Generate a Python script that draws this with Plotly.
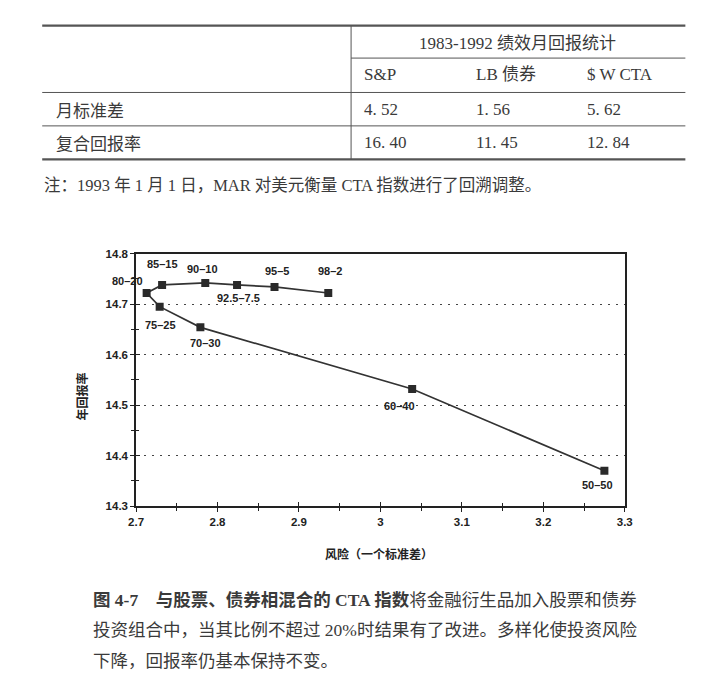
import plotly.graph_objects as go

W, H = 709, 692

# ---------------- data ----------------
table_title = "1983-1992 绩效月回报统计"
table_columns = ["S&P", "LB 债券", "$ W CTA"]
row_labels = ["月标准差", "复合回报率"]
monthly_std = [4.52, 1.56, 5.62]
compound_return = [16.40, 11.45, 12.84]
note_text = "注：1993 年 1 月 1 日，MAR 对美元衡量 CTA 指数进行了回溯调整。"

mix_labels = ["98–2", "95–5", "92.5–7.5", "90–10", "85–15", "80–20",
              "75–25", "70–30", "60–40", "50–50"]
risk = [2.936, 2.870, 2.824, 2.785, 2.732, 2.713, 2.729, 2.779, 3.039, 3.275]
annual_return = [14.722, 14.734, 14.738, 14.742, 14.738, 14.722,
                 14.695, 14.654, 14.532, 14.370]

x_title = "风险（一个标准差）"
y_title = "年回报率"
caption_lines = [
    "<b>图 4-7　与股票、债券相混合的 CTA 指数</b>将金融衍生品加入股票和债券",
    "投资组合中，当其比例不超过 20%时结果有了改进。多样化使投资风险",
    "下降，回报率仍基本保持不变。",
]

# ---------------- helpers ----------------
def px(x):
    return x / W

def py(y):
    return 1 - y / H

page_col = "#3a3a3a"
chart_col = "#222222"
serif = "Liberation Serif, Noto Sans CJK SC"
cjk = "Noto Sans CJK SC"
chart_font = "Liberation Sans, Arial, sans-serif"

# label offsets (pixels) for point labels
label_shift = [(2, 22), (2, 16), (1, -13), (-3, 14), (0, 21), (-19, 12),
               (1, -18), (5, -16), (-13, -17), (-7, -14)]

fig = go.Figure()
fig.add_trace(go.Scatter(
    x=risk, y=annual_return, mode="lines+markers",
    line=dict(color="#333333", width=1.7),
    marker=dict(symbol="square", size=8, color="#2a2a2a"),
    hoverinfo="x+y", showlegend=False,
))
# invisible trace on overlay axes so the inward ticks show
fig.add_trace(go.Scatter(x=[risk[0]], y=[annual_return[0]], xaxis="x2", yaxis="y2",
                         mode="markers", marker=dict(opacity=0), showlegend=False,
                         hoverinfo="skip"))

xdom = [px(131), px(631)]
ydom = [py(509), py(252)]

axis_common = dict(showline=True, linecolor="#222", linewidth=1.5, mirror=True,
                   ticks="outside", ticklen=4, tickcolor="#222", tickwidth=1.2,
                   tickfont=dict(family=chart_font, size=11.5, color=chart_col, weight="bold"),
                   zeroline=False)

fig.update_layout(
    width=W, height=H, margin=dict(l=0, r=0, t=0, b=0),
    paper_bgcolor="white", plot_bgcolor="white",
    xaxis=dict(domain=xdom, range=[2.7, 3.3], dtick=0.1, tick0=2.7, showgrid=False,
               tickformat=".1~f",
               minor=dict(dtick=0.05, tick0=2.7, ticks="outside", ticklen=3,
                          tickcolor="#222", showgrid=False),
               **axis_common),
    yaxis=dict(domain=ydom, range=[14.3, 14.8], dtick=0.1, tick0=14.3,
               tickformat=".1f",
               showgrid=True, gridcolor="#444", griddash="2px,6px", gridwidth=1.3,
               minor=dict(dtick=0.05, tick0=14.3, ticks="outside", ticklen=3,
                          tickcolor="#222", showgrid=False),
               **axis_common),
    xaxis2=dict(domain=xdom, range=[2.7, 3.3], overlaying="x", anchor="y2",
                dtick=0.1, tick0=2.7, ticks="inside", ticklen=4, tickcolor="#222",
                tickwidth=1.2, showticklabels=False, showgrid=False, zeroline=False,
                minor=dict(dtick=0.05, tick0=2.7, ticks="inside", ticklen=3,
                           tickcolor="#222")),
    yaxis2=dict(domain=ydom, range=[14.3, 14.8], overlaying="y", anchor="x2",
                dtick=0.1, tick0=14.3, ticks="inside", ticklen=4, tickcolor="#222",
                tickwidth=1.2, showticklabels=False, showgrid=False, zeroline=False,
                minor=dict(dtick=0.05, tick0=14.3, ticks="inside", ticklen=3,
                           tickcolor="#222")),
)

ann = []
# point labels
for lab, xv, yv, (dx, dy) in zip(mix_labels, risk, annual_return, label_shift):
    ann.append(dict(x=xv, y=yv, xref="x", yref="y", text=lab, showarrow=False,
                    xshift=dx, yshift=dy, xanchor="center", yanchor="middle",
                    font=dict(family=chart_font, size=11, color=chart_col, weight="bold")))

def paper_text(x, y, text, font, xanchor="left", **kw):
    ann.append(dict(x=px(x), y=py(y), xref="paper", yref="paper", text=text,
                    showarrow=False, xanchor=xanchor, yanchor="middle", font=font, **kw))

# axis titles
paper_text(380, 557, x_title, dict(family=cjk, size=12, color=chart_col, weight="bold"),
           xanchor="center")
paper_text(75, 397, y_title, dict(family=cjk, size=12, color=chart_col, weight="bold"),
           xanchor="center", textangle=-90)

# table text
tfont = dict(family=serif, size=17, color=page_col)
col_x = [362, 477, 590]
paper_text(521, 38, table_title, tfont, xanchor="center")
for cx, c in zip(col_x, table_columns):
    paper_text(cx, 70, c, tfont)
for ry, lab, vals in zip([105, 139], row_labels, [monthly_std, compound_return]):
    paper_text(47, ry, lab, dict(family=cjk, size=17, color=page_col))
    for cx, v in zip(col_x, vals):
        paper_text(cx, ry, f"{v:.2f}".replace(".", ". "), tfont)
paper_text(35, 183, note_text, dict(family=serif, size=16.5, color=page_col))

# caption
for i, line in enumerate(caption_lines):
    paper_text(85, 604 + 31.5 * i, line, dict(family=serif, size=17.5, color=page_col))

fig.update_layout(annotations=ann)

# table rules
shapes = []
def hline(y, x0, x1, w):
    shapes.append(dict(type="line", xref="paper", yref="paper",
                       x0=px(x0), x1=px(x1), y0=py(y), y1=py(y),
                       line=dict(color="#555", width=w)))
hline(20, 35, 693, 2.2)
hline(53, 351, 693, 1)
hline(88, 35, 693, 1)
hline(122, 35, 693, 1)
hline(156, 35, 693, 2.2)
shapes.append(dict(type="line", xref="paper", yref="paper",
                   x0=px(351), x1=px(351), y0=py(20), y1=py(156),
                   line=dict(color="#555", width=1)))
fig.update_layout(shapes=shapes)

fig.write_html("out.html",
               config={"displayModeBar": False},
               post_script="document.body.style.margin='0';"
                           "document.body.style.overflow='hidden';")
